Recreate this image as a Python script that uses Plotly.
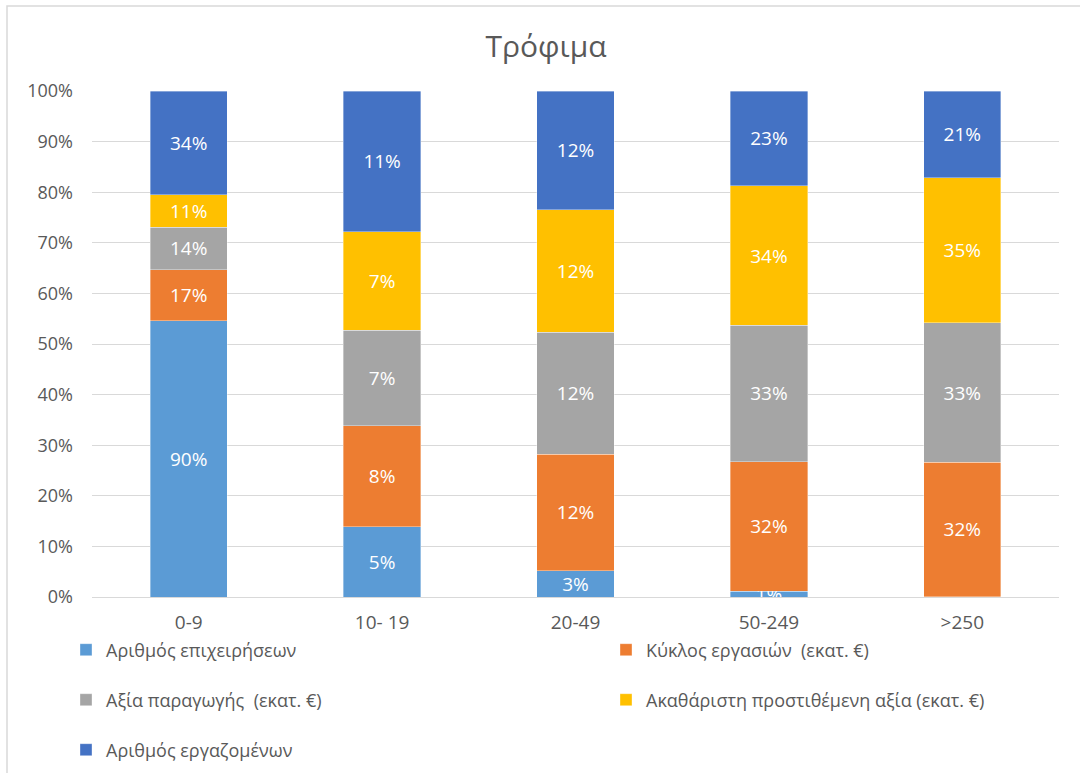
import plotly.graph_objects as go

categories = ["0-9", "10- 19", "20-49", "50-249", ">250"]

series_names = [
    "Αριθμός επιχειρήσεων",
    "Κύκλος εργασιών  (εκατ. €)",
    "Αξία παραγωγής  (εκατ. €)",
    "Ακαθάριστη προστιθέμενη αξία (εκατ. €)",
    "Αριθμός εργαζομένων",
]

num_enterprises = [90.4, 5.3, 2.6, 1.4, 0.1]
turnover = [16.7, 7.6, 11.6, 31.6, 32.1]
production_value = [13.9, 7.2, 12.1, 33.2, 33.4]
gross_value_added = [10.6, 7.4, 12.2, 34.0, 34.7]
num_employees = [33.9, 10.6, 11.8, 23.1, 20.7]

series_values = [num_enterprises, turnover, production_value, gross_value_added, num_employees]
colors = ["#5B9BD5", "#ED7D31", "#A5A5A5", "#FFC000", "#4472C4"]

FONT = "Open Sans, DejaVu Sans, sans-serif"
W, H = 1080, 773
ML, MR, MT, MB = 92, 21, 91, 176
PW, PH = W - ML - MR, H - MT - MB

def px_x(p):
    return (p - ML) / PW

def px_y(p):
    return (H - MB - p) / PH

legend_pos = [(66, 650), (606, 650), (66, 700), (606, 700), (66, 750)]

fig = go.Figure()
legend_names = ["legend", "legend2", "legend3", "legend4", "legend5"]
for i, (name, vals, col) in enumerate(zip(series_names, series_values, colors)):
    fig.add_trace(go.Bar(
        x=categories,
        y=vals,
        name=name,
        marker=dict(color=col, line=dict(color="rgba(255,255,255,0.6)", width=0.6)),
        text=[f"{v:.0f}%" for v in vals],
        textposition="inside",
        insidetextanchor="middle",
        constraintext="none",
        cliponaxis=True,
        textfont=dict(color="white", size=19, family=FONT),
        legend=legend_names[i],
    ))

layout_legends = {}
for i, ln in enumerate(legend_names):
    lx, ly = legend_pos[i]
    layout_legends[ln] = dict(
        x=px_x(lx), y=px_y(ly), xanchor="left", yanchor="middle",
        orientation="h", bgcolor="rgba(0,0,0,0)",
        font=dict(family=FONT, size=18, color="#595959"),
        itemwidth=30,
    )

fig.update_layout(
    width=W, height=H,
    margin=dict(l=ML, r=MR, t=MT, b=MB, autoexpand=False),
    barmode="stack",
    barnorm="percent",
    bargap=0.6,
    plot_bgcolor="white",
    paper_bgcolor="white",
    font=dict(family=FONT, color="#595959"),
    title=dict(text="Τρόφιμα", x=546 / W, xref="container",
               xanchor="center", y=1 - 46 / H, yanchor="middle",
               font=dict(family=FONT, size=30, color="#595959")),
    showlegend=True,
    **layout_legends,
    xaxis=dict(
        showgrid=False, showline=True, linecolor="#D9D9D9", linewidth=1.3,
        tickfont=dict(family=FONT, size=19, color="#595959"),
        ticks="", ticklabelstandoff=8,
    ),
    yaxis=dict(
        range=[0, 100], dtick=10, ticksuffix="%",
        showgrid=True, gridcolor="#D9D9D9", gridwidth=1.3,
        zeroline=False, showline=False,
        tickfont=dict(family=FONT, size=18, color="#595959"),
        ticklabelstandoff=18,
    ),
    shapes=[dict(
        type="rect", xref="paper", yref="paper",
        x0=px_x(7), x1=px_x(1100), y0=px_y(800), y1=px_y(6),
        line=dict(color="#D9D9D9", width=1.5), fillcolor="rgba(0,0,0,0)",
        layer="below",
    )],
)

fig.write_html(
    "out.html",
    config={"displayModeBar": False},
    post_script="document.body.style.margin='0';document.body.style.overflow='hidden';",
)
